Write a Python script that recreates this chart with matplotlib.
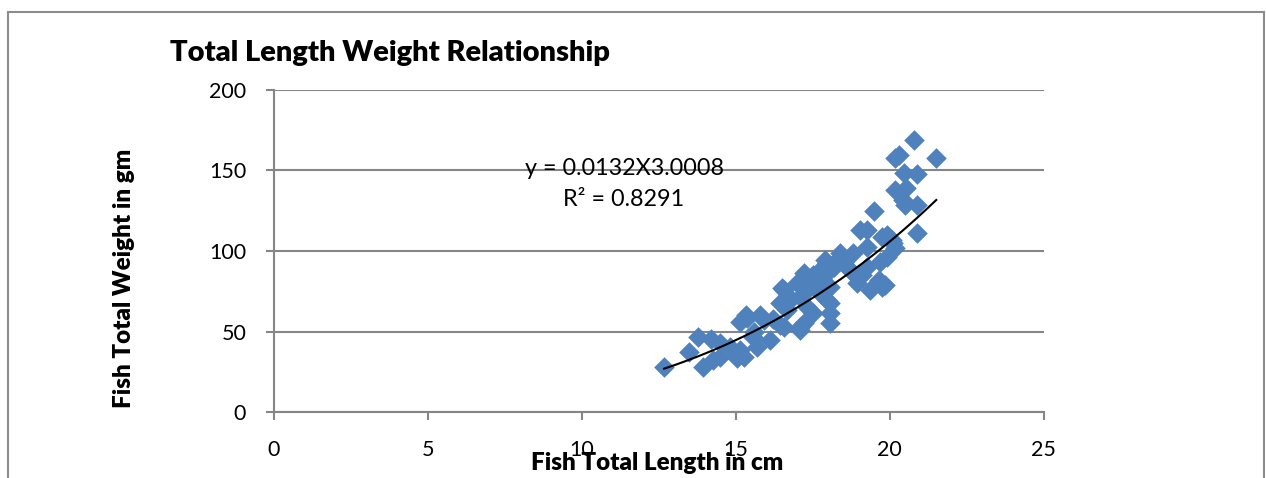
import numpy as np
import matplotlib.pyplot as plt
from matplotlib.patches import Rectangle

# fish total length (cm) and total weight (gm)
length_cm = [12.67, 13.76, 14.19, 13.47, 13.95, 14.26, 15.34, 15.12, 15.14, 15.04,
             14.82, 15.79, 16.12, 15.57, 16.55, 16.44, 16.55, 17.10, 17.20, 17.31,
             17.52, 14.50, 14.50, 15.25, 15.69, 15.36, 15.58, 16.44, 16.66, 17.09,
             17.31, 17.74, 18.07, 18.07, 17.20, 17.09, 16.50, 17.15, 17.42, 17.96,
             17.74, 18.39, 18.39, 17.91, 17.96, 18.61, 19.26, 19.69, 19.91, 19.64,
             19.37, 19.75, 18.94, 18.07, 17.96, 18.07, 18.94, 18.82, 19.26, 20.07,
             19.75, 20.18, 20.89, 20.44, 19.04, 19.50, 19.27, 19.92, 20.12, 20.51,
             20.90, 20.54, 20.18, 20.47, 20.90, 20.18, 20.31, 21.51, 20.80, 18.20,
             18.50, 17.50, 17.80, 16.80, 16.20, 15.90, 17.00, 18.70, 19.10, 19.85]
weight_gm = [28.1, 46.4, 45.2, 37.5, 28.2, 32.3, 60.2, 56.0, 38.5, 33.3,
             40.6, 60.2, 44.7, 46.8, 75.8, 67.5, 53.0, 53.0, 86.1, 77.8,
             61.5, 42.7, 34.3, 34.3, 40.6, 58.2, 49.9, 54.0, 63.4, 71.6,
             65.5, 73.7, 67.5, 55.1, 55.1, 50.9, 76.8, 82.0, 77.8, 92.4,
             88.2, 98.6, 96.5, 94.4, 86.1, 90.2, 90.2, 93.4, 96.5, 82.0,
             75.8, 77.8, 79.9, 77.8, 69.6, 61.3, 84.0, 98.8, 102.7, 106.8,
             108.9, 101.9, 111.0, 131.7, 113.0, 124.8, 113.0, 110.0, 105.0, 128.6,
             128.6, 139.1, 137.9, 148.4, 147.8, 157.8, 159.6, 157.8, 169.0, 90.0,
             93.0, 85.0, 82.0, 70.0, 58.0, 57.0, 80.0, 88.0, 85.0, 79.0]

# power trend line y = a * x^b
trend_a = 0.0132
trend_b = 3.0008
eq_text = "y = 0.0132X3.0008"
r2_text = "R² = 0.8291"

plt.rcParams['font.family'] = ['Lato', 'DejaVu Sans']

fig = plt.figure(figsize=(12.66, 4.78), dpi=100)
ax = fig.add_axes([274 / 1266, 1 - 412 / 478, (1043.7 - 274) / 1266, (412 - 90) / 478])

grey = '#868686'
ax.scatter(length_cm, weight_gm, marker='D', s=110, color='#4F81BD', linewidths=0, zorder=3)

xs = np.linspace(min(length_cm), max(length_cm), 200)
ax.plot(xs, trend_a * xs ** trend_b, color='black', lw=1.5, zorder=4)

ax.set_xlim(0, 25)
ax.set_ylim(0, 200)
ax.set_xticks(np.arange(0, 26, 5))
ax.set_yticks(np.arange(0, 201, 50))
ax.yaxis.grid(True, color=grey, lw=1.5)
ax.set_axisbelow(True)
for s in ['top', 'right']:
    ax.spines[s].set_visible(False)
for s in ['left', 'bottom']:
    ax.spines[s].set_color(grey)
    ax.spines[s].set_linewidth(1.5)
ax.tick_params(axis='both', direction='out', length=6, width=1.5, color=grey,
               labelsize=15.5, pad=14)

ax.text(11.37, 151, eq_text, fontsize=16.8, ha='center', va='center')
ax.text(11.37, 132, r2_text, fontsize=16.8, ha='center', va='center')

fig.text(170 / 1266, 1 - 53 / 478, "Total Length Weight Relationship",
         fontsize=21, fontweight='heavy', va='center', ha='left')
fig.text(657 / 1266, 1 - 463 / 478, "Fish Total Length in cm",
         fontsize=17.4, fontweight='heavy', va='center', ha='center')
fig.text(124 / 1266, 1 - 278 / 478, "Fish Total Weight in gm",
         fontsize=17.4, fontweight='heavy', va='center', ha='center', rotation=90)

# chart frame
fig.patches.append(Rectangle((8 / 1266, -0.05), (1264 - 8) / 1266, 1.05 - 12 / 478,
                             transform=fig.transFigure, fill=False,
                             edgecolor='#8c8c8c', lw=1.5))

fig.savefig('out.png', dpi=100)
